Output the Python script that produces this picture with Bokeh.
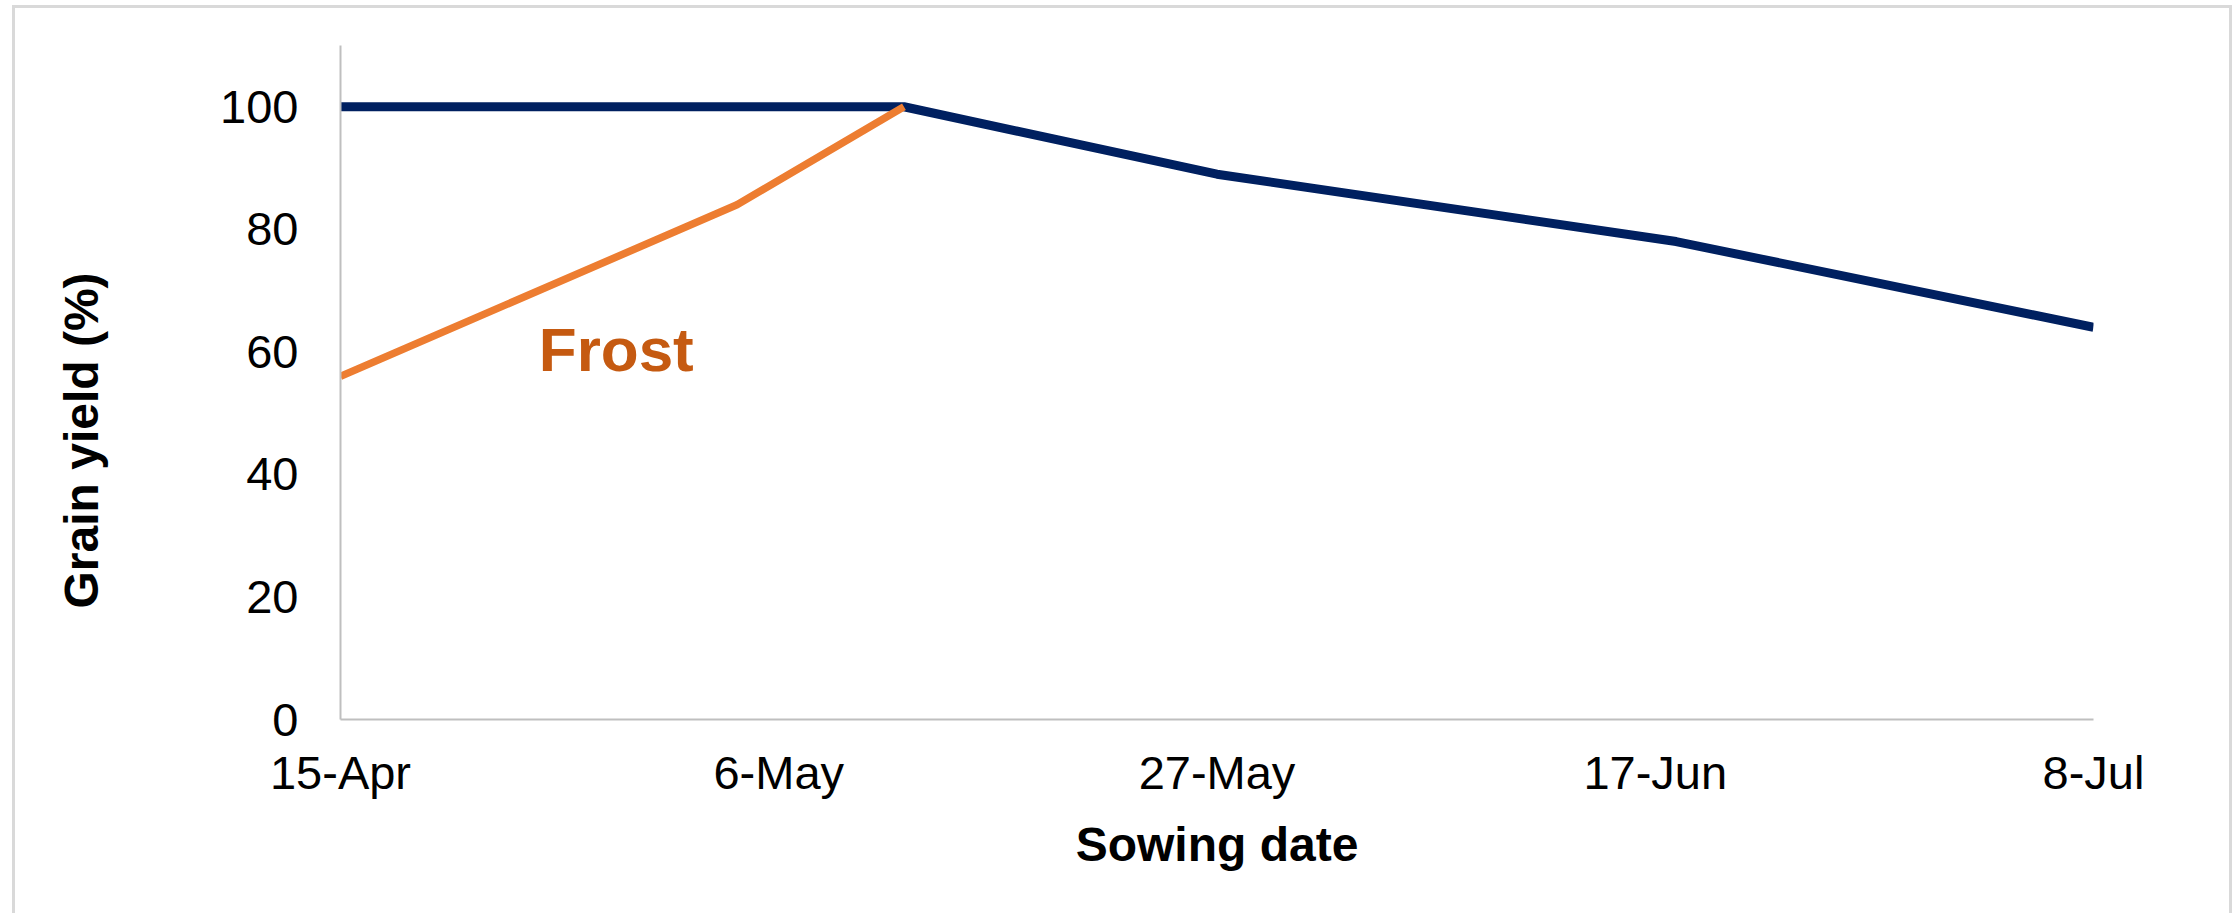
from datetime import datetime

import pandas as pd
from bokeh.embed import file_html
from bokeh.models import FixedTicker, InlineStyleSheet, Label, Range1d, Title
from bokeh.plotting import figure
from bokeh.resources import INLINE

# Sowing dates and relative grain yield (%)
sowing_dates = ["2019-04-15", "2019-05-12", "2019-05-27", "2019-06-18", "2019-07-08"]
yield_pct = [100, 100, 89, 78, 64]

# Yield after frost damage for the earliest sowings
frost_dates = ["2019-04-15", "2019-05-04", "2019-05-12"]
frost_yield_pct = [56, 84, 100]

tick_dates = ["2019-04-15", "2019-05-06", "2019-05-27", "2019-06-17", "2019-07-08"]
tick_labels = ["15-Apr", "6-May", "27-May", "17-Jun", "8-Jul"]
y_ticks = [0, 20, 40, 60, 80, 100]

FONT = "Liberation Sans"

x_main = pd.to_datetime(sowing_dates)
x_frost = pd.to_datetime(frost_dates)
x_ticks = pd.to_datetime(tick_dates)

p = figure(
    width=2234,
    height=913,
    x_axis_type="datetime",
    x_range=Range1d(x_ticks[0], x_ticks[-1]),
    y_range=Range1d(0, 110),
    output_backend="svg",
    toolbar_location=None,
    min_border_left=340,
    min_border_right=141,
    min_border_top=45,
    min_border_bottom=194,
)
p.background_fill_color = "white"
p.border_fill_color = "white"
p.outline_line_color = None
p.xgrid.visible = False
p.ygrid.visible = False

# light grey chart-area frame (open at the bottom)
p.stylesheets = [InlineStyleSheet(css="""
:host::after {
  content: "";
  position: absolute;
  left: 12px;
  top: 5px;
  width: 2220px;
  height: 908px;
  box-sizing: border-box;
  border: 3px solid #D9D9D9;
  border-bottom: none;
  pointer-events: none;
}
""")]

p.line(x_main, yield_pct, line_color="#002060", line_width=9, line_join="round")
p.line(x_frost, frost_yield_pct, line_color="#ED7D31", line_width=7.5, line_join="round")

tick_ms = [t.timestamp() * 1000 for t in x_ticks]
p.xaxis.ticker = FixedTicker(ticks=tick_ms)
p.xaxis.major_label_overrides = {ms: lab for ms, lab in zip(tick_ms, tick_labels)}
p.yaxis.ticker = FixedTicker(ticks=y_ticks)

for ax in (p.xaxis[0], p.yaxis[0]):
    ax.axis_line_color = "#BFBFBF"
    ax.axis_line_width = 2
    ax.major_tick_line_color = None
    ax.minor_tick_line_color = None
    ax.major_tick_out = 0
    ax.major_tick_in = 0
    ax.major_label_text_font = FONT
    ax.major_label_text_font_size = "47px"
    ax.major_label_text_color = "black"

p.yaxis.major_label_standoff = 42
p.xaxis.major_label_standoff = 26

p.xaxis.axis_label = "Sowing date"
p.xaxis.axis_label_text_font = FONT
p.xaxis.axis_label_text_font_size = "48px"
p.xaxis.axis_label_text_font_style = "bold"
p.xaxis.axis_label_text_color = "black"
p.xaxis.axis_label_standoff = 16

# blank side panel: widens the gap between the tick labels and the y title
p.add_layout(Title(text=" ", text_font=FONT, text_font_size="10px", standoff=90), "left")

p.add_layout(Title(
    text="Grain yield (%)", align="left", vertical_align="top",
    offset=111, standoff=10,
    text_font=FONT, text_font_size="48px", text_font_style="bold",
    text_color="black",
), "left")

p.add_layout(Label(
    x=datetime(2019, 4, 24, 12), y=60.4,
    text="Frost",
    text_font=FONT, text_font_size="62px", text_font_style="bold",
    text_color="#C55A11", text_align="left", text_baseline="alphabetic",
))

open("out.html", "w").write(file_html(p, INLINE))
